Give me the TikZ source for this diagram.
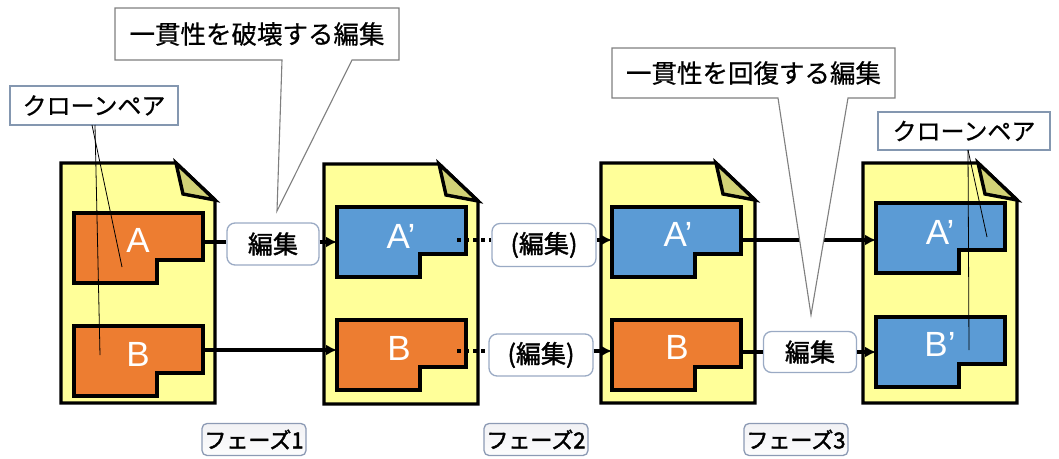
\documentclass[tikz,border=0pt]{standalone}
\usepackage{fontspec}
\newfontfamily\jp[FakeBold=0.6]{Noto Sans CJK JP}
\newfontfamily\jpb[FakeBold=1.6]{Noto Sans CJK JP}
\newfontfamily\jpp[FakeBold=2]{Noto Sans CJK JP}
\newfontfamily\lat{Liberation Sans}
\usetikzlibrary{arrows.meta}
\definecolor{docfill}{HTML}{FFFF99}
\definecolor{foldfill}{HTML}{D2D276}
\definecolor{orangeblk}{HTML}{ED7D31}
\definecolor{blueblk}{HTML}{5B9BD5}
\definecolor{calloutline}{HTML}{7F7F7F}
\definecolor{cpline}{HTML}{8497B0}
\definecolor{editline}{HTML}{9AAAC4}
\definecolor{phasefill}{HTML}{E4E4EA}
\definecolor{phaseline}{HTML}{8C9AB4}
\newcommand\docpage[2]{%
  \draw[docline, fill=docfill] (#1,#2) -- ++(115,0) -- ++(39,37) -- (#1+154,#2+240) -- (#1,#2+240) -- cycle;
  \draw[docline, fill=foldfill] (#1+115,#2) -- ++(7,31) -- ++(32,6) -- cycle;
}
\newcommand\blockshape[3]{%
  \draw[blkline, fill=#3] (#1,#2) -- ++(129,0) -- ++(0,47) -- ++(-46,0) -- ++(0,23) -- ++(-83,0) -- cycle;
}
\begin{document}
\begin{tikzpicture}[x=1pt,y=-1pt,
  docline/.style={line width=3.4pt, line join=miter},
  blkline/.style={line width=3.2pt, line join=miter},
  letter/.style={text=white, font=\lat\fontsize{35}{39}\selectfont, inner sep=0pt},
  conn/.style={line width=3.6pt},
  arr/.style={line width=3.6pt, -{Latex[length=11pt,width=11pt]}},
  dots/.style={line width=3.6pt, dash pattern=on 3.6pt off 4.4pt},
  editbox/.style={draw=editline, line width=1.3pt, fill=white, rounded corners=8pt, font=\jpb\fontsize{25}{29}\selectfont, inner sep=0pt},
  cpbox/.style={draw=cpline, line width=1.1pt, fill=white, font=\jp\fontsize{24}{28}\selectfont, inner sep=0pt},
  callout/.style={draw=calloutline, line width=1.1pt, fill=white},
  callouttext/.style={font=\jp\fontsize{25.5}{29}\selectfont, inner sep=0pt},
  phasebox/.style={draw=phaseline, line width=1.3pt, top color=phasefill!50, bottom color=phasefill!100!black!10, rounded corners=5pt, font=\jpp\fontsize{22}{25}\selectfont, inner sep=0pt, minimum width=104pt, minimum height=32pt},
  pointer/.style={line width=0.8pt, draw=black}
]
\useasboundingbox (0,0) rectangle (1059,458);

% documents
\docpage{61}{163}
\docpage{324}{164}
\docpage{601}{163}
\docpage{863}{163}

% blocks
\blockshape{74}{213}{orangeblk}
\blockshape{74}{326}{orangeblk}
\blockshape{337}{207}{blueblk}
\blockshape{337}{320}{orangeblk}
\blockshape{612}{207}{blueblk}
\blockshape{612}{320}{orangeblk}
\blockshape{876}{203}{blueblk}
\blockshape{876}{317}{blueblk}

% letters
\node[letter] (LA1) at (138,240) {A};
\node[letter] (LB1) at (138,354) {B};
\node[letter] (LA2) at (401,236) {A’};
\node[letter] (LB2) at (399,348) {B};
\node[letter] (LA3) at (678,234) {A’};
\node[letter] (LB3) at (677,347) {B};
\node[letter] (LA4) at (940,232) {A’};
\node[letter] (LB4) at (940,344) {B’};

% connector end points on blocks
\coordinate (A1r) at (203,242);
\coordinate (A2l) at (337,242);
\coordinate (A2d) at (457,240);
\coordinate (A3l) at (612,240);
\coordinate (A3r) at (741,240);
\coordinate (A4l) at (876,240);
\coordinate (B1r) at (203,350);
\coordinate (B2l) at (337,350);
\coordinate (B2d) at (457,351);
\coordinate (B3l) at (612,351);
\coordinate (B3r) at (741,352);
\coordinate (B4l) at (876,352);

% edit boxes
\node[editbox, minimum width=92pt, minimum height=42pt] (e1) at (273,244) {編集};
\node[editbox, minimum width=104pt, minimum height=43pt] (pe1) at (544,245) {(編集)};
\node[editbox, minimum width=104pt, minimum height=42pt] (pe2) at (541,355) {(編集)};
\node[editbox, minimum width=93pt, minimum height=41pt] (e2) at (810,352) {編集};

% connectors
\draw[conn] (A1r) -- (A1r -| e1.west);
\draw[arr] (A1r -| e1.east) -- (A2l);
\draw[arr] (B1r) -- (B2l);
\draw[dots] (A2d) -- (A2d -| pe1.west);
\draw[arr] (A2d -| pe1.east) -- (A3l);
\draw[dots] (B2d) -- (B2d -| pe2.west);
\draw[arr] (B2d -| pe2.east) -- (B3l);
\draw[arr] (A3r) -- (A4l);
\draw[conn] (B3r) -- (B3r -| e2.west);
\draw[arr] (B3r -| e2.east) -- (B4l);

% callouts
\draw[callout] (115,8) -- (399,8) -- (399,60) -- (352,60) -- (277,211) -- (282,60) -- (115,60) -- cycle;
\node[callouttext] (c1) at (257,34) {一貫性を破壊する編集};
\draw[callout] (612,48) -- (895,48) -- (895,98) -- (848,98) -- (811,315) -- (778,98) -- (612,98) -- cycle;
\node[callouttext] (c2) at (753.5,73) {一貫性を回復する編集};

% clone pair labels
\node[cpbox, minimum width=168pt, minimum height=39pt] (cp1) at (94,105.5) {クローンペア};
\coordinate (cp1a) at (92,125);
\coordinate (cp1b) at (95,125);
\coordinate (pA1) at (122,267);
\coordinate (pB1) at (100,355);
\draw[pointer] (cp1a) -- (pA1);
\draw[pointer] (cp1b) -- (pB1);

\node[cpbox, minimum width=172pt, minimum height=38pt] (cp2) at (964,131) {クローンペア};
\coordinate (cp2a) at (968,150);
\coordinate (pA4) at (987,237);
\coordinate (pB4) at (969,350);
\draw[pointer] (cp2a) -- (pA4);
\draw[pointer] (cp2a) -- (pB4);

% phases
\node[phasebox] (ph1) at (254,439.5) {フェーズ1};
\node[phasebox] (ph2) at (536,439.5) {フェーズ2};
\node[phasebox] (ph3) at (796,439.5) {フェーズ3};
\end{tikzpicture}
\end{document}
